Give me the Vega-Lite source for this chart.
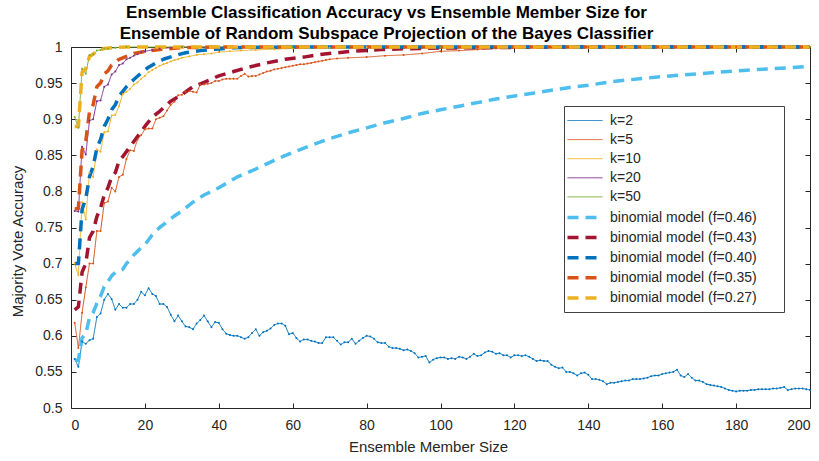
{
  "$schema": "https://vega.github.io/schema/vega-lite/v6.json",
  "width": 739,
  "height": 361,
  "autosize": {"type": "none"},
  "padding": {"left": 71, "top": 47, "right": 9, "bottom": 53},
  "background": "white",
  "title": {
    "text": ["Ensemble Classification Accuracy vs Ensemble Member Size for", "Ensemble of Random Subspace Projection of the Bayes Classifier"],
    "font": "Liberation Sans",
    "fontSize": 17,
    "fontWeight": "bold",
    "color": "#000000",
    "lineHeight": 21,
    "anchor": "middle",
    "dx": -54,
    "offset": -3
  },
  "datasets": {
    "acc": [
      {"s":"k=2","x":1,"y":0.568},{"s":"k=2","x":2,"y":0.557},{"s":"k=2","x":3,"y":0.592},{"s":"k=2","x":4,"y":0.589},{"s":"k=2","x":5,"y":0.594},
      {"s":"k=2","x":6,"y":0.596},{"s":"k=2","x":7,"y":0.626},{"s":"k=2","x":8,"y":0.631},{"s":"k=2","x":9,"y":0.650},{"s":"k=2","x":10,"y":0.658},
      {"s":"k=2","x":11,"y":0.651},{"s":"k=2","x":12,"y":0.636},{"s":"k=2","x":13,"y":0.644},{"s":"k=2","x":14,"y":0.639},{"s":"k=2","x":15,"y":0.639},
      {"s":"k=2","x":16,"y":0.644},{"s":"k=2","x":17,"y":0.644},{"s":"k=2","x":18,"y":0.650},{"s":"k=2","x":19,"y":0.661},{"s":"k=2","x":20,"y":0.656},
      {"s":"k=2","x":21,"y":0.666},{"s":"k=2","x":22,"y":0.658},{"s":"k=2","x":23,"y":0.655},{"s":"k=2","x":24,"y":0.644},{"s":"k=2","x":25,"y":0.644},
      {"s":"k=2","x":26,"y":0.640},{"s":"k=2","x":27,"y":0.629},{"s":"k=2","x":28,"y":0.620},{"s":"k=2","x":29,"y":0.628},{"s":"k=2","x":30,"y":0.620},
      {"s":"k=2","x":31,"y":0.613},{"s":"k=2","x":32,"y":0.612},{"s":"k=2","x":33,"y":0.609},{"s":"k=2","x":34,"y":0.617},{"s":"k=2","x":35,"y":0.622},
      {"s":"k=2","x":36,"y":0.628},{"s":"k=2","x":37,"y":0.620},{"s":"k=2","x":38,"y":0.612},{"s":"k=2","x":39,"y":0.619},{"s":"k=2","x":40,"y":0.618},
      {"s":"k=2","x":41,"y":0.609},{"s":"k=2","x":42,"y":0.603},{"s":"k=2","x":43,"y":0.601},{"s":"k=2","x":44,"y":0.600},{"s":"k=2","x":45,"y":0.600},
      {"s":"k=2","x":46,"y":0.598},{"s":"k=2","x":47,"y":0.596},{"s":"k=2","x":48,"y":0.598},{"s":"k=2","x":49,"y":0.604},{"s":"k=2","x":50,"y":0.609},
      {"s":"k=2","x":51,"y":0.600},{"s":"k=2","x":52,"y":0.605},{"s":"k=2","x":53,"y":0.607},{"s":"k=2","x":54,"y":0.610},{"s":"k=2","x":55,"y":0.615},
      {"s":"k=2","x":56,"y":0.617},{"s":"k=2","x":57,"y":0.617},{"s":"k=2","x":58,"y":0.614},{"s":"k=2","x":59,"y":0.602},{"s":"k=2","x":60,"y":0.604},
      {"s":"k=2","x":61,"y":0.597},{"s":"k=2","x":62,"y":0.592},{"s":"k=2","x":63,"y":0.595},{"s":"k=2","x":64,"y":0.595},{"s":"k=2","x":65,"y":0.593},
      {"s":"k=2","x":66,"y":0.592},{"s":"k=2","x":67,"y":0.590},{"s":"k=2","x":68,"y":0.590},{"s":"k=2","x":69,"y":0.598},{"s":"k=2","x":70,"y":0.598},
      {"s":"k=2","x":71,"y":0.598},{"s":"k=2","x":72,"y":0.593},{"s":"k=2","x":73,"y":0.588},{"s":"k=2","x":74,"y":0.591},{"s":"k=2","x":75,"y":0.591},
      {"s":"k=2","x":76,"y":0.596},{"s":"k=2","x":77,"y":0.589},{"s":"k=2","x":78,"y":0.593},{"s":"k=2","x":79,"y":0.597},{"s":"k=2","x":80,"y":0.600},
      {"s":"k=2","x":81,"y":0.599},{"s":"k=2","x":82,"y":0.596},{"s":"k=2","x":83,"y":0.591},{"s":"k=2","x":84,"y":0.590},{"s":"k=2","x":85,"y":0.590},
      {"s":"k=2","x":86,"y":0.585},{"s":"k=2","x":87,"y":0.583},{"s":"k=2","x":88,"y":0.583},{"s":"k=2","x":89,"y":0.582},{"s":"k=2","x":90,"y":0.580},
      {"s":"k=2","x":91,"y":0.581},{"s":"k=2","x":92,"y":0.579},{"s":"k=2","x":93,"y":0.576},{"s":"k=2","x":94,"y":0.570},{"s":"k=2","x":95,"y":0.571},
      {"s":"k=2","x":96,"y":0.572},{"s":"k=2","x":97,"y":0.563},{"s":"k=2","x":98,"y":0.567},{"s":"k=2","x":99,"y":0.569},{"s":"k=2","x":100,"y":0.570},
      {"s":"k=2","x":101,"y":0.570},{"s":"k=2","x":102,"y":0.568},{"s":"k=2","x":103,"y":0.569},{"s":"k=2","x":104,"y":0.568},{"s":"k=2","x":105,"y":0.571},
      {"s":"k=2","x":106,"y":0.570},{"s":"k=2","x":107,"y":0.568},{"s":"k=2","x":108,"y":0.571},{"s":"k=2","x":109,"y":0.575},{"s":"k=2","x":110,"y":0.572},
      {"s":"k=2","x":111,"y":0.573},{"s":"k=2","x":112,"y":0.577},{"s":"k=2","x":113,"y":0.579},{"s":"k=2","x":114,"y":0.578},{"s":"k=2","x":115,"y":0.575},
      {"s":"k=2","x":116,"y":0.576},{"s":"k=2","x":117,"y":0.573},{"s":"k=2","x":118,"y":0.573},{"s":"k=2","x":119,"y":0.570},{"s":"k=2","x":120,"y":0.573},
      {"s":"k=2","x":121,"y":0.573},{"s":"k=2","x":122,"y":0.572},{"s":"k=2","x":123,"y":0.573},{"s":"k=2","x":124,"y":0.571},{"s":"k=2","x":125,"y":0.568},
      {"s":"k=2","x":126,"y":0.565},{"s":"k=2","x":127,"y":0.566},{"s":"k=2","x":128,"y":0.565},{"s":"k=2","x":129,"y":0.565},{"s":"k=2","x":130,"y":0.560},
      {"s":"k=2","x":131,"y":0.557},{"s":"k=2","x":132,"y":0.555},{"s":"k=2","x":133,"y":0.556},{"s":"k=2","x":134,"y":0.550},{"s":"k=2","x":135,"y":0.550},
      {"s":"k=2","x":136,"y":0.548},{"s":"k=2","x":137,"y":0.545},{"s":"k=2","x":138,"y":0.548},{"s":"k=2","x":139,"y":0.549},{"s":"k=2","x":140,"y":0.546},
      {"s":"k=2","x":141,"y":0.540},{"s":"k=2","x":142,"y":0.540},{"s":"k=2","x":143,"y":0.539},{"s":"k=2","x":144,"y":0.537},{"s":"k=2","x":145,"y":0.533},
      {"s":"k=2","x":146,"y":0.535},{"s":"k=2","x":147,"y":0.535},{"s":"k=2","x":148,"y":0.536},{"s":"k=2","x":149,"y":0.537},{"s":"k=2","x":150,"y":0.538},
      {"s":"k=2","x":151,"y":0.538},{"s":"k=2","x":152,"y":0.540},{"s":"k=2","x":153,"y":0.540},{"s":"k=2","x":154,"y":0.540},{"s":"k=2","x":155,"y":0.541},
      {"s":"k=2","x":156,"y":0.542},{"s":"k=2","x":157,"y":0.544},{"s":"k=2","x":158,"y":0.545},{"s":"k=2","x":159,"y":0.545},{"s":"k=2","x":160,"y":0.547},
      {"s":"k=2","x":161,"y":0.548},{"s":"k=2","x":162,"y":0.549},{"s":"k=2","x":163,"y":0.550},{"s":"k=2","x":164,"y":0.553},{"s":"k=2","x":165,"y":0.545},
      {"s":"k=2","x":166,"y":0.543},{"s":"k=2","x":167,"y":0.547},{"s":"k=2","x":168,"y":0.542},{"s":"k=2","x":169,"y":0.538},{"s":"k=2","x":170,"y":0.538},
      {"s":"k=2","x":171,"y":0.536},{"s":"k=2","x":172,"y":0.533},{"s":"k=2","x":173,"y":0.532},{"s":"k=2","x":174,"y":0.531},{"s":"k=2","x":175,"y":0.530},
      {"s":"k=2","x":176,"y":0.529},{"s":"k=2","x":177,"y":0.527},{"s":"k=2","x":178,"y":0.525},{"s":"k=2","x":179,"y":0.524},{"s":"k=2","x":180,"y":0.523},
      {"s":"k=2","x":181,"y":0.524},{"s":"k=2","x":182,"y":0.524},{"s":"k=2","x":183,"y":0.524},{"s":"k=2","x":184,"y":0.525},{"s":"k=2","x":185,"y":0.525},
      {"s":"k=2","x":186,"y":0.526},{"s":"k=2","x":187,"y":0.526},{"s":"k=2","x":188,"y":0.526},{"s":"k=2","x":189,"y":0.526},{"s":"k=2","x":190,"y":0.527},
      {"s":"k=2","x":191,"y":0.527},{"s":"k=2","x":192,"y":0.528},{"s":"k=2","x":193,"y":0.529},{"s":"k=2","x":194,"y":0.525},{"s":"k=2","x":195,"y":0.526},
      {"s":"k=2","x":196,"y":0.527},{"s":"k=2","x":197,"y":0.527},{"s":"k=2","x":198,"y":0.527},{"s":"k=2","x":199,"y":0.526},{"s":"k=2","x":200,"y":0.525},

      {"s":"k=5","x":1,"y":0.618},{"s":"k=5","x":2,"y":0.583},{"s":"k=5","x":3,"y":0.632},{"s":"k=5","x":4,"y":0.667},{"s":"k=5","x":5,"y":0.700},
      {"s":"k=5","x":6,"y":0.700},{"s":"k=5","x":7,"y":0.745},{"s":"k=5","x":8,"y":0.745},{"s":"k=5","x":9,"y":0.784},{"s":"k=5","x":10,"y":0.786},
      {"s":"k=5","x":11,"y":0.805},{"s":"k=5","x":12,"y":0.800},{"s":"k=5","x":13,"y":0.820},{"s":"k=5","x":14,"y":0.823},{"s":"k=5","x":15,"y":0.845},
      {"s":"k=5","x":16,"y":0.857},{"s":"k=5","x":17,"y":0.856},{"s":"k=5","x":18,"y":0.872},{"s":"k=5","x":19,"y":0.878},{"s":"k=5","x":20,"y":0.886},
      {"s":"k=5","x":21,"y":0.887},{"s":"k=5","x":22,"y":0.887},{"s":"k=5","x":23,"y":0.900},{"s":"k=5","x":24,"y":0.902},{"s":"k=5","x":25,"y":0.904},
      {"s":"k=5","x":26,"y":0.912},{"s":"k=5","x":27,"y":0.920},{"s":"k=5","x":28,"y":0.924},{"s":"k=5","x":29,"y":0.933},{"s":"k=5","x":30,"y":0.934},
      {"s":"k=5","x":31,"y":0.938},{"s":"k=5","x":32,"y":0.939},{"s":"k=5","x":33,"y":0.938},{"s":"k=5","x":34,"y":0.937},{"s":"k=5","x":35,"y":0.948},
      {"s":"k=5","x":36,"y":0.948},{"s":"k=5","x":37,"y":0.949},{"s":"k=5","x":38,"y":0.950},{"s":"k=5","x":39,"y":0.953},{"s":"k=5","x":40,"y":0.953},
      {"s":"k=5","x":41,"y":0.955},{"s":"k=5","x":42,"y":0.956},{"s":"k=5","x":43,"y":0.956},{"s":"k=5","x":44,"y":0.956},{"s":"k=5","x":45,"y":0.956},
      {"s":"k=5","x":46,"y":0.960},{"s":"k=5","x":47,"y":0.963},{"s":"k=5","x":48,"y":0.959},{"s":"k=5","x":49,"y":0.960},{"s":"k=5","x":50,"y":0.960},
      {"s":"k=5","x":51,"y":0.962},{"s":"k=5","x":52,"y":0.964},{"s":"k=5","x":53,"y":0.966},{"s":"k=5","x":54,"y":0.967},{"s":"k=5","x":55,"y":0.969},
      {"s":"k=5","x":56,"y":0.970},{"s":"k=5","x":57,"y":0.971},{"s":"k=5","x":58,"y":0.972},{"s":"k=5","x":59,"y":0.973},{"s":"k=5","x":60,"y":0.974},
      {"s":"k=5","x":61,"y":0.975},{"s":"k=5","x":62,"y":0.976},{"s":"k=5","x":63,"y":0.976},{"s":"k=5","x":64,"y":0.977},{"s":"k=5","x":65,"y":0.978},
      {"s":"k=5","x":66,"y":0.979},{"s":"k=5","x":67,"y":0.980},{"s":"k=5","x":68,"y":0.981},{"s":"k=5","x":69,"y":0.982},{"s":"k=5","x":70,"y":0.983},
      {"s":"k=5","x":72,"y":0.984},{"s":"k=5","x":75,"y":0.985},{"s":"k=5","x":80,"y":0.986},{"s":"k=5","x":85,"y":0.988},{"s":"k=5","x":90,"y":0.989},
      {"s":"k=5","x":95,"y":0.991},{"s":"k=5","x":100,"y":0.994},{"s":"k=5","x":105,"y":0.995},{"s":"k=5","x":110,"y":0.9965},{"s":"k=5","x":115,"y":0.998},
      {"s":"k=5","x":120,"y":0.999},{"s":"k=5","x":130,"y":0.9995},{"s":"k=5","x":140,"y":1},{"s":"k=5","x":160,"y":1},{"s":"k=5","x":180,"y":1},{"s":"k=5","x":200,"y":1},

      {"s":"k=10","x":1,"y":0.700},{"s":"k=10","x":2,"y":0.684},{"s":"k=10","x":3,"y":0.785},{"s":"k=10","x":4,"y":0.761},{"s":"k=10","x":5,"y":0.826},
      {"s":"k=10","x":6,"y":0.820},{"s":"k=10","x":7,"y":0.858},{"s":"k=10","x":8,"y":0.855},{"s":"k=10","x":9,"y":0.882},{"s":"k=10","x":10,"y":0.883},
      {"s":"k=10","x":11,"y":0.905},{"s":"k=10","x":12,"y":0.906},{"s":"k=10","x":13,"y":0.918},{"s":"k=10","x":14,"y":0.935},{"s":"k=10","x":15,"y":0.938},
      {"s":"k=10","x":16,"y":0.942},{"s":"k=10","x":17,"y":0.948},{"s":"k=10","x":18,"y":0.951},{"s":"k=10","x":19,"y":0.956},{"s":"k=10","x":20,"y":0.960},
      {"s":"k=10","x":21,"y":0.965},{"s":"k=10","x":22,"y":0.968},{"s":"k=10","x":23,"y":0.971},{"s":"k=10","x":24,"y":0.974},{"s":"k=10","x":25,"y":0.976},
      {"s":"k=10","x":26,"y":0.978},{"s":"k=10","x":27,"y":0.980},{"s":"k=10","x":28,"y":0.982},{"s":"k=10","x":29,"y":0.983},{"s":"k=10","x":30,"y":0.985},
      {"s":"k=10","x":32,"y":0.987},{"s":"k=10","x":34,"y":0.989},{"s":"k=10","x":36,"y":0.990},{"s":"k=10","x":38,"y":0.991},{"s":"k=10","x":40,"y":0.993},
      {"s":"k=10","x":43,"y":0.994},{"s":"k=10","x":46,"y":0.995},{"s":"k=10","x":50,"y":0.996},{"s":"k=10","x":55,"y":0.997},{"s":"k=10","x":60,"y":0.998},
      {"s":"k=10","x":70,"y":0.999},{"s":"k=10","x":80,"y":1},{"s":"k=10","x":120,"y":1},{"s":"k=10","x":160,"y":1},{"s":"k=10","x":200,"y":1},

      {"s":"k=20","x":1,"y":0.773},{"s":"k=20","x":2,"y":0.772},{"s":"k=20","x":3,"y":0.862},{"s":"k=20","x":4,"y":0.851},{"s":"k=20","x":5,"y":0.898},
      {"s":"k=20","x":6,"y":0.900},{"s":"k=20","x":7,"y":0.925},{"s":"k=20","x":8,"y":0.926},{"s":"k=20","x":9,"y":0.945},{"s":"k=20","x":10,"y":0.948},
      {"s":"k=20","x":11,"y":0.962},{"s":"k=20","x":12,"y":0.966},{"s":"k=20","x":13,"y":0.975},{"s":"k=20","x":14,"y":0.977},{"s":"k=20","x":15,"y":0.983},
      {"s":"k=20","x":16,"y":0.985},{"s":"k=20","x":17,"y":0.988},{"s":"k=20","x":18,"y":0.990},{"s":"k=20","x":19,"y":0.993},{"s":"k=20","x":20,"y":0.994},
      {"s":"k=20","x":22,"y":0.996},{"s":"k=20","x":24,"y":0.998},{"s":"k=20","x":27,"y":0.999},{"s":"k=20","x":30,"y":1},{"s":"k=20","x":60,"y":1},
      {"s":"k=20","x":100,"y":1},{"s":"k=20","x":150,"y":1},{"s":"k=20","x":200,"y":1},

      {"s":"k=50","x":1,"y":0.903},{"s":"k=50","x":2,"y":0.888},{"s":"k=50","x":3,"y":0.970},{"s":"k=50","x":4,"y":0.963},{"s":"k=50","x":5,"y":0.989},
      {"s":"k=50","x":6,"y":0.990},{"s":"k=50","x":7,"y":0.995},{"s":"k=50","x":8,"y":0.996},{"s":"k=50","x":9,"y":0.998},{"s":"k=50","x":10,"y":0.998},
      {"s":"k=50","x":12,"y":0.999},{"s":"k=50","x":15,"y":1},{"s":"k=50","x":30,"y":1},{"s":"k=50","x":60,"y":1},{"s":"k=50","x":100,"y":1},
      {"s":"k=50","x":150,"y":1},{"s":"k=50","x":200,"y":1},

      {"s":"binomial model (f=0.46)","x":1,"y":0.566},{"s":"binomial model (f=0.46)","x":2,"y":0.566},{"s":"binomial model (f=0.46)","x":3,"y":0.597},
      {"s":"binomial model (f=0.46)","x":4,"y":0.603},{"s":"binomial model (f=0.46)","x":5,"y":0.625},{"s":"binomial model (f=0.46)","x":6,"y":0.632},
      {"s":"binomial model (f=0.46)","x":7,"y":0.645},{"s":"binomial model (f=0.46)","x":8,"y":0.655},{"s":"binomial model (f=0.46)","x":9,"y":0.668},
      {"s":"binomial model (f=0.46)","x":10,"y":0.675},{"s":"binomial model (f=0.46)","x":11,"y":0.683},{"s":"binomial model (f=0.46)","x":12,"y":0.688},
      {"s":"binomial model (f=0.46)","x":13,"y":0.690},{"s":"binomial model (f=0.46)","x":14,"y":0.692},{"s":"binomial model (f=0.46)","x":15,"y":0.700},
      {"s":"binomial model (f=0.46)","x":16,"y":0.705},{"s":"binomial model (f=0.46)","x":17,"y":0.712},{"s":"binomial model (f=0.46)","x":18,"y":0.717},
      {"s":"binomial model (f=0.46)","x":19,"y":0.722},{"s":"binomial model (f=0.46)","x":20,"y":0.726},{"s":"binomial model (f=0.46)","x":22,"y":0.740},
      {"s":"binomial model (f=0.46)","x":24,"y":0.750},{"s":"binomial model (f=0.46)","x":26,"y":0.758},{"s":"binomial model (f=0.46)","x":28,"y":0.766},
      {"s":"binomial model (f=0.46)","x":30,"y":0.773},{"s":"binomial model (f=0.46)","x":33,"y":0.785},{"s":"binomial model (f=0.46)","x":36,"y":0.795},
      {"s":"binomial model (f=0.46)","x":40,"y":0.805},{"s":"binomial model (f=0.46)","x":45,"y":0.820},{"s":"binomial model (f=0.46)","x":50,"y":0.831},
      {"s":"binomial model (f=0.46)","x":55,"y":0.843},{"s":"binomial model (f=0.46)","x":60,"y":0.854},{"s":"binomial model (f=0.46)","x":65,"y":0.864},
      {"s":"binomial model (f=0.46)","x":70,"y":0.873},{"s":"binomial model (f=0.46)","x":75,"y":0.881},{"s":"binomial model (f=0.46)","x":80,"y":0.888},
      {"s":"binomial model (f=0.46)","x":85,"y":0.895},{"s":"binomial model (f=0.46)","x":90,"y":0.901},{"s":"binomial model (f=0.46)","x":95,"y":0.908},
      {"s":"binomial model (f=0.46)","x":100,"y":0.913},{"s":"binomial model (f=0.46)","x":105,"y":0.918},{"s":"binomial model (f=0.46)","x":110,"y":0.923},
      {"s":"binomial model (f=0.46)","x":115,"y":0.928},{"s":"binomial model (f=0.46)","x":120,"y":0.932},{"s":"binomial model (f=0.46)","x":125,"y":0.936},
      {"s":"binomial model (f=0.46)","x":130,"y":0.940},{"s":"binomial model (f=0.46)","x":135,"y":0.944},{"s":"binomial model (f=0.46)","x":140,"y":0.947},
      {"s":"binomial model (f=0.46)","x":145,"y":0.951},{"s":"binomial model (f=0.46)","x":150,"y":0.954},{"s":"binomial model (f=0.46)","x":160,"y":0.959},
      {"s":"binomial model (f=0.46)","x":170,"y":0.963},{"s":"binomial model (f=0.46)","x":180,"y":0.967},{"s":"binomial model (f=0.46)","x":190,"y":0.970},
      {"s":"binomial model (f=0.46)","x":200,"y":0.973},

      {"s":"binomial model (f=0.43)","x":1,"y":0.636},{"s":"binomial model (f=0.43)","x":2,"y":0.640},{"s":"binomial model (f=0.43)","x":3,"y":0.688},
      {"s":"binomial model (f=0.43)","x":4,"y":0.700},{"s":"binomial model (f=0.43)","x":5,"y":0.736},{"s":"binomial model (f=0.43)","x":6,"y":0.745},
      {"s":"binomial model (f=0.43)","x":7,"y":0.765},{"s":"binomial model (f=0.43)","x":8,"y":0.777},{"s":"binomial model (f=0.43)","x":9,"y":0.795},
      {"s":"binomial model (f=0.43)","x":10,"y":0.805},{"s":"binomial model (f=0.43)","x":11,"y":0.820},{"s":"binomial model (f=0.43)","x":12,"y":0.826},
      {"s":"binomial model (f=0.43)","x":13,"y":0.842},{"s":"binomial model (f=0.43)","x":14,"y":0.848},{"s":"binomial model (f=0.43)","x":16,"y":0.862},
      {"s":"binomial model (f=0.43)","x":18,"y":0.876},{"s":"binomial model (f=0.43)","x":20,"y":0.890},{"s":"binomial model (f=0.43)","x":22,"y":0.903},
      {"s":"binomial model (f=0.43)","x":24,"y":0.911},{"s":"binomial model (f=0.43)","x":27,"y":0.925},{"s":"binomial model (f=0.43)","x":30,"y":0.934},
      {"s":"binomial model (f=0.43)","x":33,"y":0.945},{"s":"binomial model (f=0.43)","x":36,"y":0.951},{"s":"binomial model (f=0.43)","x":40,"y":0.960},
      {"s":"binomial model (f=0.43)","x":44,"y":0.966},{"s":"binomial model (f=0.43)","x":48,"y":0.972},{"s":"binomial model (f=0.43)","x":53,"y":0.978},
      {"s":"binomial model (f=0.43)","x":58,"y":0.983},{"s":"binomial model (f=0.43)","x":63,"y":0.986},{"s":"binomial model (f=0.43)","x":68,"y":0.990},
      {"s":"binomial model (f=0.43)","x":76,"y":0.994},{"s":"binomial model (f=0.43)","x":84,"y":0.9965},{"s":"binomial model (f=0.43)","x":90,"y":0.9975},
      {"s":"binomial model (f=0.43)","x":100,"y":0.9985},{"s":"binomial model (f=0.43)","x":120,"y":0.9995},{"s":"binomial model (f=0.43)","x":140,"y":1},
      {"s":"binomial model (f=0.43)","x":170,"y":1},{"s":"binomial model (f=0.43)","x":200,"y":1},

      {"s":"binomial model (f=0.40)","x":1,"y":0.700},{"s":"binomial model (f=0.40)","x":2,"y":0.700},{"s":"binomial model (f=0.40)","x":3,"y":0.775},
      {"s":"binomial model (f=0.40)","x":4,"y":0.790},{"s":"binomial model (f=0.40)","x":5,"y":0.820},{"s":"binomial model (f=0.40)","x":6,"y":0.835},
      {"s":"binomial model (f=0.40)","x":7,"y":0.860},{"s":"binomial model (f=0.40)","x":8,"y":0.872},{"s":"binomial model (f=0.40)","x":9,"y":0.890},
      {"s":"binomial model (f=0.40)","x":10,"y":0.900},{"s":"binomial model (f=0.40)","x":11,"y":0.913},{"s":"binomial model (f=0.40)","x":12,"y":0.920},
      {"s":"binomial model (f=0.40)","x":13,"y":0.932},{"s":"binomial model (f=0.40)","x":15,"y":0.945},{"s":"binomial model (f=0.40)","x":17,"y":0.955},
      {"s":"binomial model (f=0.40)","x":19,"y":0.964},{"s":"binomial model (f=0.40)","x":21,"y":0.972},{"s":"binomial model (f=0.40)","x":23,"y":0.978},
      {"s":"binomial model (f=0.40)","x":25,"y":0.983},{"s":"binomial model (f=0.40)","x":28,"y":0.988},{"s":"binomial model (f=0.40)","x":31,"y":0.992},
      {"s":"binomial model (f=0.40)","x":35,"y":0.995},{"s":"binomial model (f=0.40)","x":39,"y":0.997},{"s":"binomial model (f=0.40)","x":44,"y":0.999},
      {"s":"binomial model (f=0.40)","x":50,"y":0.9995},{"s":"binomial model (f=0.40)","x":60,"y":1},{"s":"binomial model (f=0.40)","x":100,"y":1},
      {"s":"binomial model (f=0.40)","x":150,"y":1},{"s":"binomial model (f=0.40)","x":200,"y":1},

      {"s":"binomial model (f=0.35)","x":1,"y":0.776},{"s":"binomial model (f=0.35)","x":2,"y":0.776},{"s":"binomial model (f=0.35)","x":3,"y":0.857},
      {"s":"binomial model (f=0.35)","x":4,"y":0.870},{"s":"binomial model (f=0.35)","x":5,"y":0.910},{"s":"binomial model (f=0.35)","x":6,"y":0.920},
      {"s":"binomial model (f=0.35)","x":7,"y":0.945},{"s":"binomial model (f=0.35)","x":8,"y":0.950},{"s":"binomial model (f=0.35)","x":9,"y":0.963},
      {"s":"binomial model (f=0.35)","x":10,"y":0.967},{"s":"binomial model (f=0.35)","x":11,"y":0.975},{"s":"binomial model (f=0.35)","x":12,"y":0.978},
      {"s":"binomial model (f=0.35)","x":13,"y":0.983},{"s":"binomial model (f=0.35)","x":15,"y":0.987},{"s":"binomial model (f=0.35)","x":17,"y":0.991},
      {"s":"binomial model (f=0.35)","x":20,"y":0.994},{"s":"binomial model (f=0.35)","x":25,"y":0.997},{"s":"binomial model (f=0.35)","x":30,"y":0.999},
      {"s":"binomial model (f=0.35)","x":40,"y":1},{"s":"binomial model (f=0.35)","x":100,"y":1},{"s":"binomial model (f=0.35)","x":150,"y":1},
      {"s":"binomial model (f=0.35)","x":200,"y":1},

      {"s":"binomial model (f=0.27)","x":1,"y":0.890},{"s":"binomial model (f=0.27)","x":2,"y":0.890},{"s":"binomial model (f=0.27)","x":3,"y":0.965},
      {"s":"binomial model (f=0.27)","x":4,"y":0.970},{"s":"binomial model (f=0.27)","x":5,"y":0.987},{"s":"binomial model (f=0.27)","x":6,"y":0.990},
      {"s":"binomial model (f=0.27)","x":7,"y":0.995},{"s":"binomial model (f=0.27)","x":8,"y":0.996},{"s":"binomial model (f=0.27)","x":9,"y":0.998},
      {"s":"binomial model (f=0.27)","x":11,"y":0.999},{"s":"binomial model (f=0.27)","x":15,"y":1},{"s":"binomial model (f=0.27)","x":50,"y":1},
      {"s":"binomial model (f=0.27)","x":100,"y":1},{"s":"binomial model (f=0.27)","x":150,"y":1},{"s":"binomial model (f=0.27)","x":200,"y":1}
    ],
    "frame": [{"x": 0, "y": 0.5}]
  },
  "layer": [
    {
      "data": {"name": "acc"},
      "encoding": {
        "x": {
          "field": "x", "type": "quantitative",
          "scale": {"domain": [0, 200], "nice": false, "zero": false},
          "axis": {
            "values": [0, 20, 40, 60, 80, 100, 120, 140, 160, 180, 200],
            "labelOverlap": false,
            "tickSize": -5, "labelPadding": 15,
            "title": "Ensemble Member Size",
            "titleX": 357, "titleY": 43, "titleBaseline": "alphabetic", "titleAnchor": null
          }
        },
        "y": {
          "field": "y", "type": "quantitative",
          "scale": {"domain": [0.5, 1], "nice": false, "zero": false},
          "axis": {
            "values": [0.5, 0.55, 0.6, 0.65, 0.7, 0.75, 0.8, 0.85, 0.9, 0.95, 1],
            "format": "~g",
            "labelOverlap": false,
            "tickSize": -5, "labelPadding": 14,
            "title": "Majority Vote Accuracy",
            "titleX": -49, "titleY": 194, "titleAngle": -90, "titleAlign": "center", "titleBaseline": "alphabetic"
          }
        }
      },
      "layer": [
        {
          "mark": {"type": "line", "strokeCap": "butt", "strokeJoin": "round"},
          "encoding": {
            "color": {
              "field": "s", "type": "nominal",
              "scale": {
                "domain": ["k=2", "k=5", "k=10", "k=20", "k=50", "binomial model (f=0.46)", "binomial model (f=0.43)", "binomial model (f=0.40)", "binomial model (f=0.35)", "binomial model (f=0.27)"],
                "range": ["#0072BD", "#D95319", "#EDB120", "#7E2F8E", "#77AC30", "#4DBEEE", "#A2142F", "#0072BD", "#D95319", "#EDB120"]
              },
              "legend": {
                "orient": "none", "legendX": 493, "legendY": 59,
                "title": null,
                "symbolType": "M-2.5,0H2.5",
                "symbolSize": 196,
                "symbolOffset": 5,
                "labelOffset": 16,
                "labelFont": "Liberation Sans", "labelFontSize": 14, "labelColor": "#262626",
                "labelExpr": "datum.label + '\u2800\u2800'",
                "labelLimit": 400,
                "rowPadding": 4.1,
                "padding": 7,
                "fillColor": "white", "strokeColor": "#404040"
              }
            },
            "strokeDash": {
              "field": "s", "type": "nominal",
              "scale": {
                "domain": ["k=2", "k=5", "k=10", "k=20", "k=50", "binomial model (f=0.46)", "binomial model (f=0.43)", "binomial model (f=0.40)", "binomial model (f=0.35)", "binomial model (f=0.27)"],
                "range": [[1, 0], [1, 0], [1, 0], [1, 0], [1, 0], [11, 7], [11, 7], [11, 7], [11, 7], [11, 7]]
              }
            },
            "strokeWidth": {
              "field": "s", "type": "nominal",
              "scale": {
                "type": "ordinal",
                "domain": ["k=2", "k=5", "k=10", "k=20", "k=50", "binomial model (f=0.46)", "binomial model (f=0.43)", "binomial model (f=0.40)", "binomial model (f=0.35)", "binomial model (f=0.27)"],
                "range": [1, 1, 1, 1, 1, 3.5, 3.5, 3.5, 3.5, 3.5]
              }
            }
          }
        },
        {
          "transform": [{"filter": "indexof(datum.s, 'k=') == 0"}],
          "mark": {"type": "point", "filled": true, "size": 4, "opacity": 1},
          "encoding": {
            "color": {"field": "s", "type": "nominal"}
          }
        }
      ]
    },
    {
      "data": {"name": "frame"},
      "mark": {"type": "point", "opacity": 0},
      "encoding": {
        "x": {
          "field": "x", "type": "quantitative",
          "axis": {"orient": "top", "values": [0, 20, 40, 60, 80, 100, 120, 140, 160, 180, 200], "labels": false, "tickSize": -5, "title": null}
        },
        "y": {
          "field": "y", "type": "quantitative",
          "axis": {"orient": "right", "values": [0.5, 0.55, 0.6, 0.65, 0.7, 0.75, 0.8, 0.85, 0.9, 0.95, 1], "labels": false, "tickSize": -5, "title": null}
        }
      }
    }
  ],
  "resolve": {"axis": {"x": "independent", "y": "independent"}},
  "config": {
    "view": {"stroke": null},
    "font": "Liberation Sans",
    "axis": {
      "grid": false,
      "domainColor": "#262626", "tickColor": "#262626",
      "labelColor": "#262626", "titleColor": "#262626",
      "labelFont": "Liberation Sans", "titleFont": "Liberation Sans",
      "labelFontSize": 14, "titleFontSize": 15, "titleFontWeight": "normal",
      "domainWidth": 1, "tickWidth": 1
    }
  }
}
